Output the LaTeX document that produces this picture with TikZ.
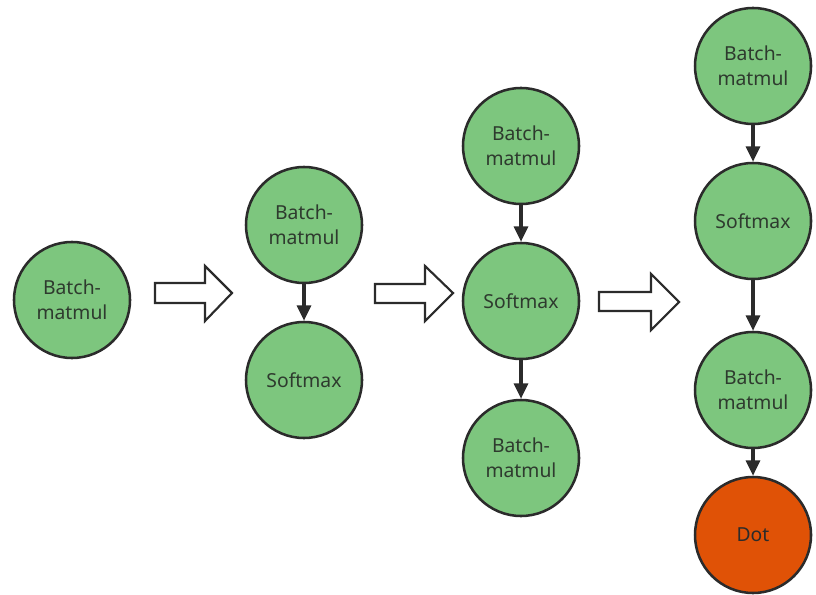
\documentclass[tikz,border=0pt]{standalone}
\usepackage{fontspec}
\setmainfont{Noto Sans}
\usetikzlibrary{arrows.meta}
\definecolor{opgreen}{HTML}{7DC67E}
\definecolor{opdot}{HTML}{E05206}
\definecolor{opline}{HTML}{2B2B2B}
\definecolor{optext}{HTML}{2E3A2E}
\begin{document}
\begin{tikzpicture}[x=0.75pt,y=-0.75pt,
  op/.style={circle,draw=opline,line width=1.9pt,fill=opgreen,
    minimum size=87pt,inner sep=0pt,align=center,text=optext,
    font=\fontsize{14.5}{18.75}\selectfont},
  dotop/.style={op,fill=opdot,text=opline},
  flow/.style={draw=opline,line width=2.3pt,
    -{Triangle[width=10.5pt,length=11.5pt]}},
  bigarrow/.style={draw=opline,line width=1.6pt,fill=white,line join=miter}]
\useasboundingbox (0,0) rectangle (816,595);

% stage 1
\node[op] (a1) at (72,300) {Batch-\\matmul};

% stage 2
\node[op] (b1) at (304,225) {Batch-\\matmul};
\node[op] (b2) at (304,380) {Softmax};
\draw[flow] (b1) -- (b2);

% stage 3
\node[op] (c1) at (521,146) {Batch-\\matmul};
\node[op] (c2) at (521,301) {Softmax};
\node[op] (c3) at (521,458) {Batch-\\matmul};
\draw[flow] (c1) -- (c2);
\draw[flow] (c2) -- (c3);

% stage 4
\node[op] (d1) at (753,66) {Batch-\\matmul};
\node[op] (d2) at (753,221) {Softmax};
\node[op] (d3) at (753,390) {Batch-\\matmul};
\node[dotop] (d4) at (753,535) {Dot};
\draw[flow] (d1) -- (d2);
\draw[flow] (d2) -- (d3);
\draw[flow] (d3) -- (d4);

% hollow block arrows between stages
\draw[bigarrow] (155,283) -- (205,283) -- (205,266) -- (232,293)
  -- (205,321) -- (205,303) -- (155,303) -- cycle;
\draw[bigarrow] (375,284) -- (425,284) -- (425,266) -- (453,293)
  -- (425,321) -- (425,303) -- (375,303) -- cycle;
\draw[bigarrow] (599,292) -- (651,292) -- (651,274) -- (679,302)
  -- (651,330) -- (651,311) -- (599,311) -- cycle;
\end{tikzpicture}
\end{document}
